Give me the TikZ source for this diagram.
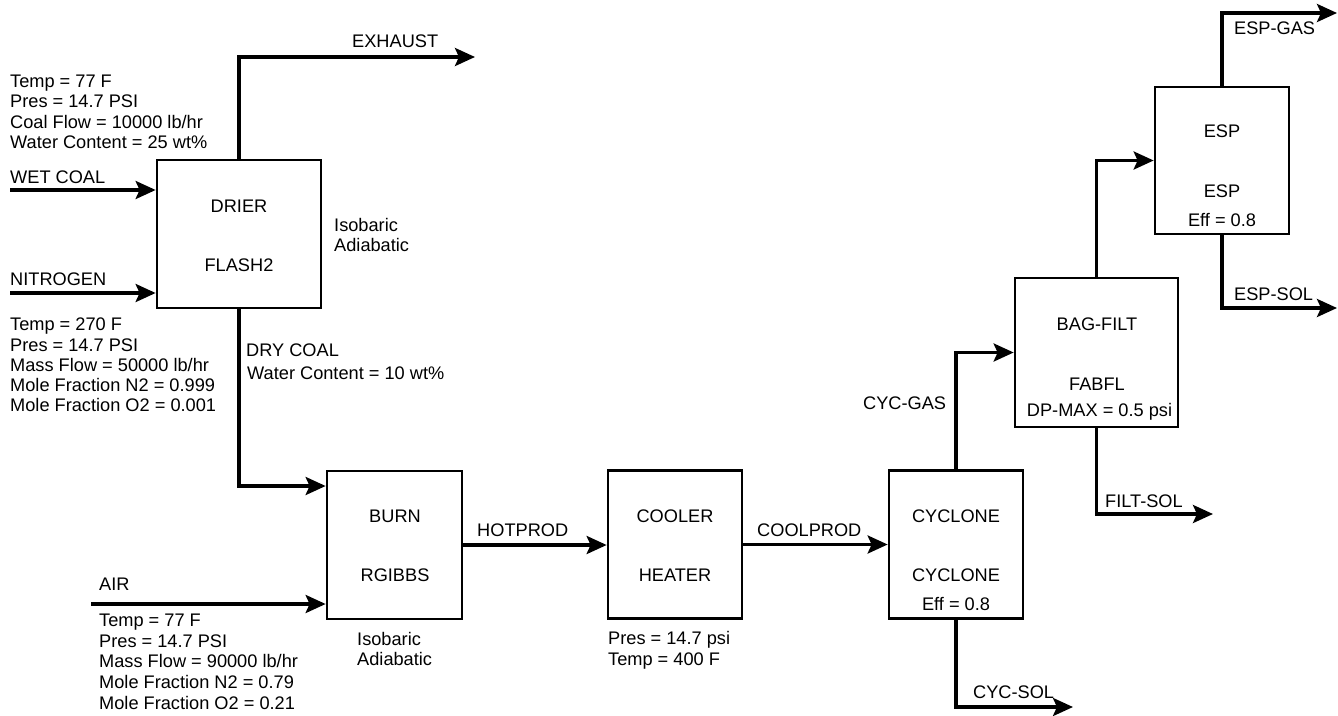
\documentclass[tikz,border=0pt]{standalone}
\usepackage{fontspec}
\setmainfont{Liberation Sans}
\usetikzlibrary{arrows.meta}
\begin{document}
\begin{tikzpicture}[x=1pt,y=-1pt,
  unitbox/.style={draw=black, line width=2.7pt, inner sep=0pt, minimum width=134pt, minimum height=148pt},
  flow/.style={line width=3.5pt, -{Stealth[length=20pt,width=18pt,inset=4pt]}},
  txt/.style={inner sep=0pt, anchor=base west, font=\fontsize{18.2}{20.5}\selectfont},
  ctxt/.style={inner sep=0pt, anchor=base, font=\fontsize{18.2}{20.5}\selectfont}]
\useasboundingbox (0,0) rectangle (1338,715);

% unit boxes
\node[unitbox, minimum width=164pt] (drier) at (239,234) {};
\node[unitbox, minimum width=135pt] (burn) at (394.5,545) {};
\node[unitbox] (cooler) at (675,544.5) {};
\node[unitbox] (cyclone) at (956,544.5) {};
\node[unitbox, minimum width=163pt, minimum height=149pt] (bagfilt) at (1096.5,352.5) {};
\node[unitbox, minimum height=147pt] (esp) at (1222,160.5) {};

% free stream ends
\coordinate (wetin) at (10,190);
\coordinate (n2in) at (10,293);
\coordinate (airin) at (91,604);
\coordinate (exhout) at (475,57);
\coordinate (filtout) at (1213,514);
\coordinate (cycsolout) at (1073,707);
\coordinate (espgasout) at (1337,13);
\coordinate (espsolout) at (1337,308);

% streams
\draw[flow] (wetin) -- (wetin -| drier.west);
\draw[flow] (n2in) -- (n2in -| drier.west);
\draw[flow] (drier.north) |- (exhout);
\draw[flow] (drier.south) |- ([yshift=59pt]burn.west);
\draw[flow] (airin) -- (airin -| burn.west);
\draw[flow] (burn.east) -- (burn.east -| cooler.west);
\draw[flow] (cooler.east) -- (cooler.east -| cyclone.west);
\draw[flow] (cyclone.north) |- (bagfilt.west);
\draw[flow] (cyclone.south) |- (cycsolout);
\draw[flow] (bagfilt.north) |- (esp.west);
\draw[flow] (bagfilt.south) |- (filtout);
\draw[flow] (esp.north) |- (espgasout);
\draw[flow] (esp.south) |- (espsolout);

% box texts
\node[ctxt] (t-drier1) at (239,212) {DRIER};
\node[ctxt] (t-drier2) at (239,271) {FLASH2};
\node[ctxt] (t-burn1) at (395,522) {BURN};
\node[ctxt] (t-burn2) at (395,581.5) {RGIBBS};
\node[ctxt] (t-cool1) at (675,522) {COOLER};
\node[ctxt] (t-cool2) at (675,581) {HEATER};
\node[ctxt] (t-cyc1) at (956,522) {CYCLONE};
\node[ctxt] (t-cyc2) at (956,581) {CYCLONE};
\node[ctxt] (t-cyc3) at (956,610.5) {Eff = 0.8};
\node[ctxt] (t-bag1) at (1097,330) {BAG-FILT};
\node[ctxt] (t-bag2) at (1097,390) {FABFL};
\node[ctxt] (t-bag3) at (1099.5,416) {DP-MAX = 0.5 psi};
\node[ctxt] (t-esp1) at (1222,137) {ESP};
\node[ctxt] (t-esp2) at (1222,197) {ESP};
\node[ctxt] (t-esp3) at (1222,226.5) {Eff = 0.8};

% stream labels
\node[txt] (l-exh) at (352,47) {EXHAUST};
\node[txt] (l-wet) at (10,183) {WET COAL};
\node[txt] (l-n2) at (10,285) {NITROGEN};
\node[txt] (l-dry1) at (246,356) {DRY COAL};
\node[txt] (l-dry2) at (247,379) {Water Content = 10 wt\%};
\node[txt] (l-air) at (99,590) {AIR};
\node[txt] (l-hot) at (477,536) {HOTPROD};
\node[txt] (l-coolp) at (757,536) {COOLPROD};
\node[txt] (l-cycgas) at (863,409) {CYC-GAS};
\node[txt] (l-cycsol) at (973,698) {CYC-SOL};
\node[txt] (l-filt) at (1105,507) {FILT-SOL};
\node[txt] (l-espgas) at (1234,34) {ESP-GAS};
\node[txt] (l-espsol) at (1234,300.5) {ESP-SOL};

% annotations
\node[txt] (a-dr1) at (334,231.5) {Isobaric};
\node[txt] (a-dr2) at (334,251.5) {Adiabatic};
\node[txt] (a-bu1) at (357,645) {Isobaric};
\node[txt] (a-bu2) at (357,665) {Adiabatic};
\node[txt] (a-co1) at (608,644) {Pres = 14.7 psi};
\node[txt] (a-co2) at (608,665) {Temp = 400 F};

\foreach \t [count=\i] in {Temp = 77 F, Pres = 14.7 PSI, Coal Flow = 10000 lb/hr, Water Content = 25 wt\%}
  \node[txt] (wc-\i) at (10,{87+(\i-1)*20.5}) {\t};
\foreach \t [count=\i] in {Temp = 270 F, Pres = 14.7 PSI, Mass Flow = 50000 lb/hr, Mole Fraction N2 = 0.999, Mole Fraction O2 = 0.001}
  \node[txt] (n2-\i) at (10,{330.7+(\i-1)*20.3}) {\t};
\foreach \t [count=\i] in {Temp = 77 F, Pres = 14.7 PSI, Mass Flow = 90000 lb/hr, Mole Fraction N2 = 0.79, Mole Fraction O2 = 0.21}
  \node[txt] (air-\i) at (99,{626.7+(\i-1)*20.6}) {\t};
\end{tikzpicture}
\end{document}
